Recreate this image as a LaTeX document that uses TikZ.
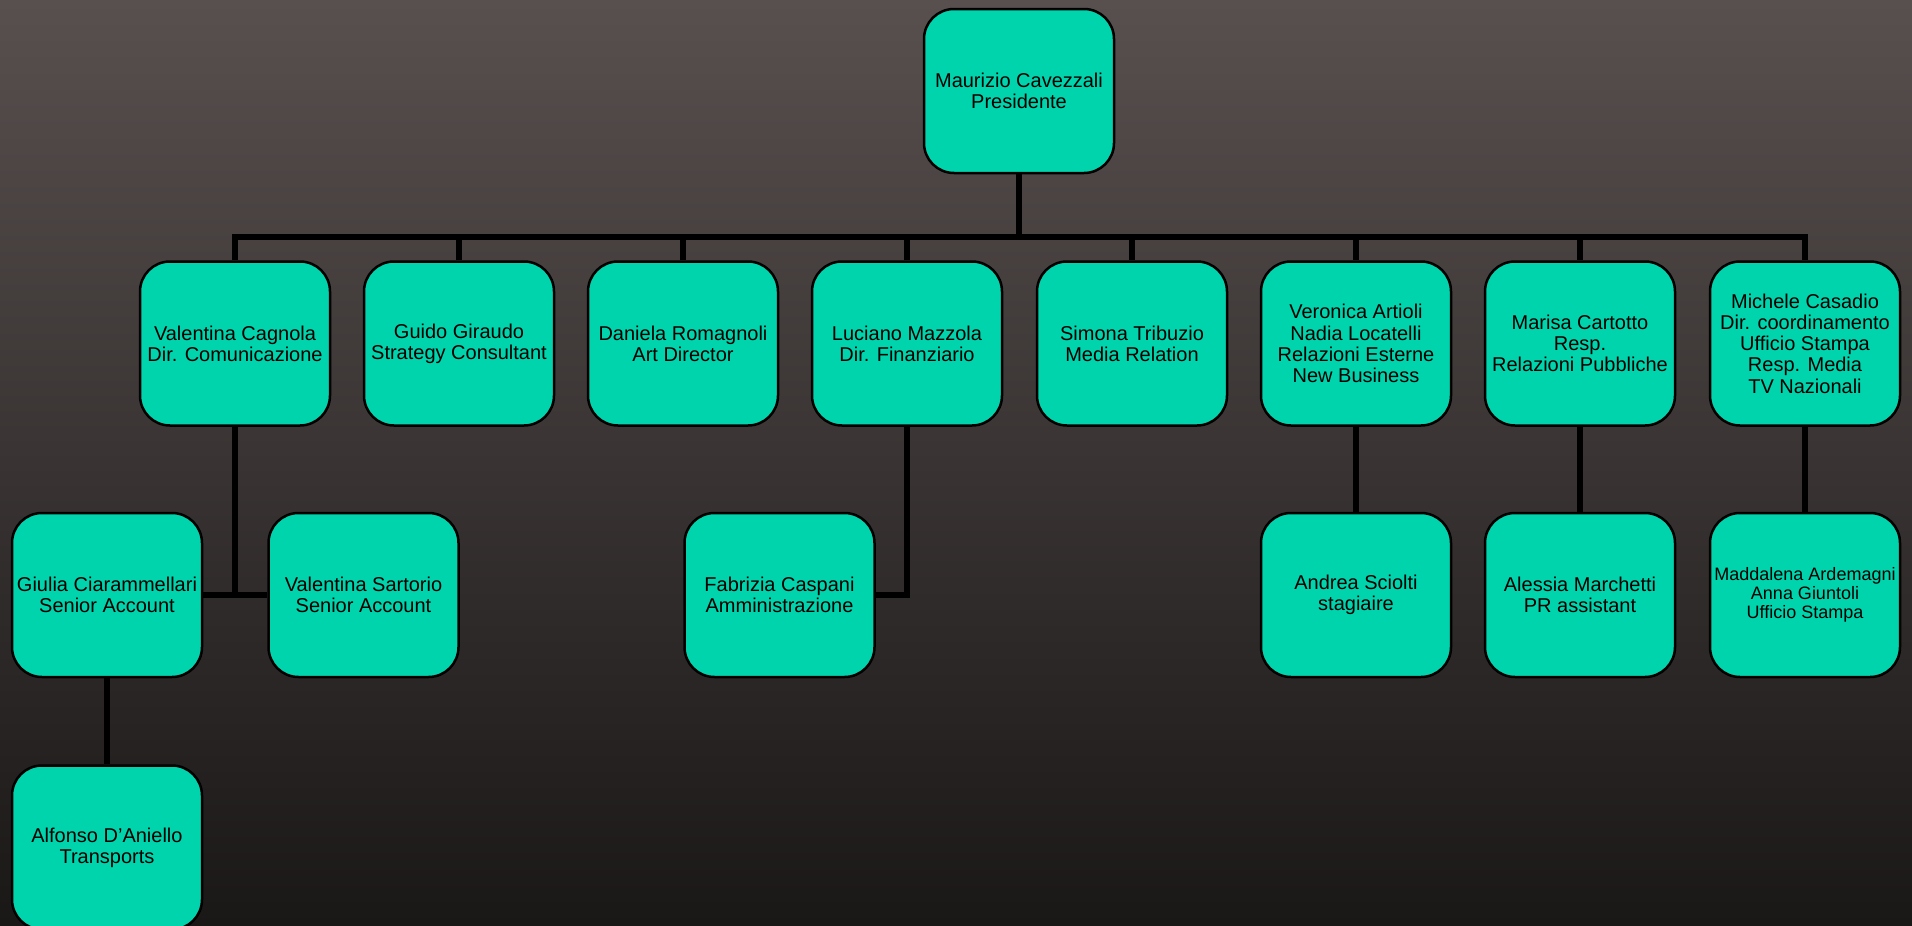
\documentclass[tikz,border=0pt]{standalone}
\usepackage{fontspec}
\setmainfont{Liberation Sans}
\usepackage{xcolor}
\usetikzlibrary{positioning, calc}
\definecolor{boxteal}{RGB}{0,212,172}
\definecolor{bgtop}{RGB}{88,80,79}
\definecolor{bgmid}{RGB}{60,54,53}
\definecolor{bgbot}{RGB}{26,23,23}

\begin{document}
\begin{tikzpicture}[x=0.5pt, y=-0.5pt,
    person/.style={draw=black, line width=1.25pt, fill=boxteal, rounded corners=15pt,
      minimum width=95pt, minimum height=82pt, inner sep=0pt, align=center,
      font=\fontsize{10}{10.6}\selectfont},
    small/.style={font=\fontsize{9}{9.4}\selectfont},
    link/.style={line width=3pt}]

      \shade[top color=bgtop, middle color=bgmid, bottom color=bgbot] (0,0) rectangle (1912,926);
      \useasboundingbox (0,0) rectangle (1912,926);

      \node[person] (pres) at (1019,91) {Maurizio Cavezzali\\Presidente};

      \node[person] (valc) at (235,343.5) {Valentina Cagnola\\Dir. Comunicazione};
      \node[person] (guido) at (459,343.5) {Guido Giraudo\\Strategy Consultant};
      \node[person] (daniela) at (683,343.5) {Daniela Romagnoli\\Art Director};
      \node[person] (luciano) at (907,343.5) {Luciano Mazzola\\Dir. Finanziario};
      \node[person] (simona) at (1132,343.5) {Simona Tribuzio\\Media Relation};
      \node[person] (veronica) at (1356,343.5) {Veronica Artioli\\Nadia Locatelli\\Relazioni Esterne\\New Business};
      \node[person] (marisa) at (1580,343.5) {Marisa Cartotto\\Resp.\\Relazioni Pubbliche};
      \node[person] (michele) at (1805,343.5) {Michele Casadio\\Dir. coordinamento\\Ufficio Stampa\\Resp. Media\\TV Nazionali};

      \node[person] (giulia) at (107,595) {Giulia Ciarammellari\\Senior Account};
      \node[person] (sartorio) at (363.5,595) {Valentina Sartorio\\Senior Account};
      \node[person] (fabrizia) at (779.5,595) {Fabrizia Caspani\\Amministrazione};
      \node[person] (andrea) at (1356,595) {Andrea Sciolti\\stagiaire};
      \node[person] (alessia) at (1580,595) {Alessia Marchetti\\PR assistant};
      \node[person, small] (maddalena) at (1805,595) {Maddalena Ardemagni\\Anna Giuntoli\\Ufficio Stampa};

      \node[person] (alfonso) at (107,847.5) {Alfonso D'Aniello\\Transports};

      \coordinate (bus) at (1019,237);
      \draw[link] (pres.south) -- (bus);
      \draw[link] (valc.north) |- (bus) -| (michele.north);
      \draw[link] (bus -| guido.north) -- (guido.north);
      \draw[link] (bus -| daniela.north) -- (daniela.north);
      \draw[link] (bus -| luciano.north) -- (luciano.north);
      \draw[link] (bus -| simona.north) -- (simona.north);
      \draw[link] (bus -| veronica.north) -- (veronica.north);
      \draw[link] (bus -| marisa.north) -- (marisa.north);

      \draw[link] (valc.south) -- (valc.south |- giulia.east);
      \draw[link] (giulia.east) -- (sartorio.west);
      \draw[link] (giulia.south) -- (alfonso.north);
      \draw[link] (luciano.south) |- (fabrizia.east);
      \draw[link] (veronica.south) -- (andrea.north);
      \draw[link] (marisa.south) -- (alessia.north);
      \draw[link] (michele.south) -- (maddalena.north);

    \end{tikzpicture}
\end{document}
